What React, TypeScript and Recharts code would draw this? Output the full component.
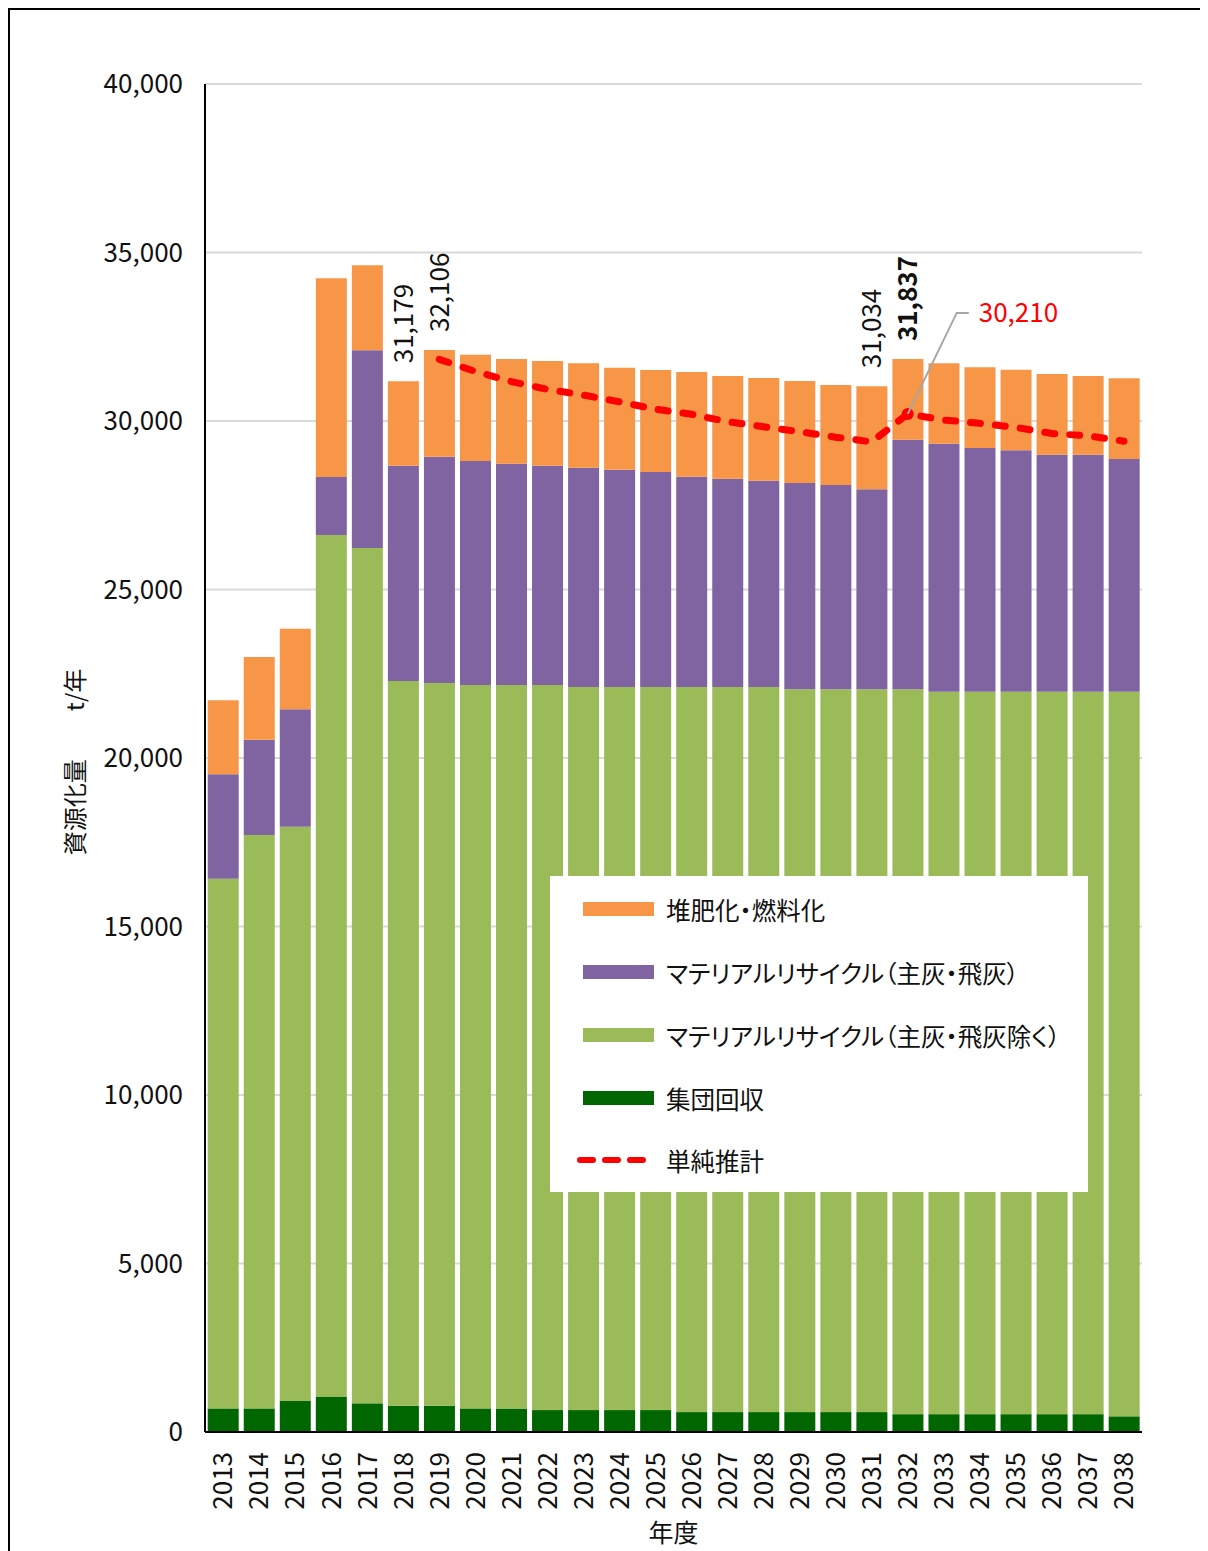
import React from 'react';
import { ComposedChart, Bar, Line, XAxis, YAxis, CartesianGrid, Legend, LabelList } from 'recharts';

const years = [
  '2013', '2014', '2015', '2016', '2017', '2018', '2019', '2020', '2021', '2022', '2023', '2024', '2025',
  '2026', '2027', '2028', '2029', '2030', '2031', '2032', '2033', '2034', '2035', '2036', '2037', '2038',
];

// 集団回収
const groupCollection = [700, 700, 920, 1050, 850, 780, 780, 700, 700, 650, 650, 650, 650, 590, 590, 590, 590, 590, 590, 530, 530, 530, 530, 530, 530, 465];
// マテリアルリサイクル（主灰・飛灰除く）
const materialOther = [15718, 17015, 17042, 25567, 25381, 21505, 21446, 21466, 21466, 21516, 21457, 21457, 21457, 21517, 21517, 21517, 21448, 21448, 21448, 21508, 21438, 21438, 21438, 21438, 21438, 21503];
// マテリアルリサイクル（主灰・飛灰）
const materialAsh = [3098, 2828, 3483, 1721, 5867, 6389, 6715, 6647, 6568, 6508, 6508, 6449, 6380, 6241, 6182, 6122, 6122, 6063, 5934, 7407, 7359, 7231, 7162, 7032, 7032, 6904];
// 堆肥化・燃料化
const compostFuel = [2196, 2454, 2392, 5896, 2522, 2505, 3165, 3155, 3106, 3106, 3096, 3026, 3026, 3106, 3046, 3047, 3027, 2967, 3062, 2392, 2384, 2394, 2393, 2395, 2335, 2395];
// 単純推計
const simpleEstimate: (number | null)[] = [null, null, null, null, null, null, 31830, 31470, 31170, 30940, 30770, 30570, 30350, 30200, 29980, 29830, 29680, 29520, 29380, 30210, 30030, 29930, 29810, 29630, 29560, 29400];

const yTicks = [0, 5000, 10000, 15000, 20000, 25000, 30000, 35000, 40000];
const labelledYears = ['2018', '2019', '2031', '2032'];
const boldYears = ['2032'];
const estimateLabelYear = '2032';

const data = years.map((year, i) => ({
  year,
  group: groupCollection[i],
  other: materialOther[i],
  ash: materialAsh[i],
  compost: compostFuel[i],
  estimate: simpleEstimate[i],
  total: groupCollection[i] + materialOther[i] + materialAsh[i] + compostFuel[i],
}));

const FONT = '"Noto Sans CJK JP", "Noto Sans", sans-serif';
const fmt = (v: number) => v.toLocaleString('en-US');

const YearTick = (props: any) => {
  const { x, y, payload } = props;
  return (
    <g transform={`translate(${x},${y})`}>
      <text transform="rotate(-90)" x={-18} dy="0.36em" textAnchor="end" fontSize={26} fontFamily={FONT} fill="#111">
        {payload.value}
      </text>
    </g>
  );
};

const TotalLabel = (props: any) => {
  const { x, y, width, index } = props;
  const d = data[index];
  if (!d || !labelledYears.includes(d.year)) return null;
  const cx = x + width / 2;
  const ty = y - 18;
  return (
    <text
      transform={`rotate(-90, ${cx}, ${ty})`}
      x={cx}
      y={ty}
      dy="0.36em"
      textAnchor="start"
      fontSize={26}
      fontFamily={FONT}
      fontWeight={boldYears.includes(d.year) ? 'bold' : 'normal'}
      fill="#111"
    >
      {fmt(d.total)}
    </text>
  );
};

const EstimateLabel = (props: any) => {
  const { x, y, index } = props;
  const d = data[index];
  if (!d || d.year !== estimateLabelYear || d.estimate == null) return null;
  return (
    <g>
      <path d={`M${x},${y} L${x + 49},${y - 101} L${x + 61},${y - 101}`} stroke="#a6a6a6" strokeWidth={2} fill="none" />
      <text x={x + 71} y={y - 101} dy="0.36em" fontSize={26} fontFamily={FONT} fill="#ff0000">
        {fmt(d.estimate)}
      </text>
    </g>
  );
};

const legendItems = [
  { label: '堆肥化・燃料化', color: '#f79646' },
  { label: 'マテリアルリサイクル（主灰・飛灰）', color: '#8064a2' },
  { label: 'マテリアルリサイクル（主灰・飛灰除く）', color: '#9bbb59' },
  { label: '集団回収', color: '#006600' },
];

const LegendBox = () => (
  <div style={{ position: 'relative', width: 538, height: 316, background: '#fff', fontFamily: FONT, fontSize: 24.5, color: '#111', fontFeatureSettings: '"palt"' }}>
    {legendItems.map((item, i) => (
      <div key={item.label} style={{ position: 'absolute', left: 33, top: 33 + i * 63 - 16, height: 32, display: 'flex', alignItems: 'center' }}>
        <span style={{ display: 'inline-block', width: 71, height: 14, background: item.color, marginRight: 12 }} />
        <span style={{ whiteSpace: 'nowrap' }}>{item.label}</span>
      </div>
    ))}
    <div style={{ position: 'absolute', left: 27, top: 284 - 16, height: 32, display: 'flex', alignItems: 'center' }}>
      <svg width={77} height={14} style={{ marginRight: 12 }}>
        <line x1={3} y1={7} x2={74} y2={7} stroke="#ff0000" strokeWidth={6} strokeDasharray="13 12" strokeLinecap="round" />
      </svg>
      <span style={{ whiteSpace: 'nowrap' }}>単純推計</span>
    </div>
  </div>
);

export default function App() {
  return (
    <div style={{ position: 'relative', width: 1200, height: 1543, overflow: 'hidden' }}>
      <div style={{ position: 'absolute', left: 0, top: 0, width: 1210, height: 1553, borderTop: '2px solid #000', borderLeft: '2px solid #000', boxSizing: 'border-box' }} />
      <ComposedChart
        width={1200}
        height={1543}
        data={data}
        margin={{ top: 76, right: 66, bottom: 0, left: 0 }}
        barCategoryGap="7.5%"
        style={{ position: 'absolute', left: 0, top: 0 }}
      >
        <CartesianGrid vertical={false} stroke="#d9d9d9" strokeWidth={2} />
        <XAxis
          dataKey="year"
          height={119}
          tick={<YearTick />}
          tickLine={false}
          tickSize={0}
          interval={0}
          axisLine={{ stroke: '#000', strokeWidth: 2 }}
          label={{ value: '年度', position: 'insideBottom', offset: 9, fontSize: 25, fontFamily: FONT, fill: '#111' }}
        />
        <YAxis
          width={197}
          domain={[0, 40000]}
          ticks={yTicks}
          tickFormatter={fmt}
          tickLine={false}
          tickSize={0}
          tickMargin={22}
          axisLine={{ stroke: '#000', strokeWidth: 2 }}
          tick={{ fontSize: 26, fontFamily: FONT, fill: '#111' }}
          label={{ value: '資源化量　　t/年', angle: -90, position: 'center', dx: -31, dy: 4, fontSize: 24, fontFamily: FONT, fill: '#111' }}
        />
        <Bar dataKey="group" stackId="a" fill="#006600" isAnimationActive={false} />
        <Bar dataKey="other" stackId="a" fill="#9bbb59" isAnimationActive={false} />
        <Bar dataKey="ash" stackId="a" fill="#8064a2" isAnimationActive={false} />
        <Bar dataKey="compost" stackId="a" fill="#f79646" isAnimationActive={false}>
          <LabelList dataKey="total" content={<TotalLabel />} />
        </Bar>
        <Line
          dataKey="estimate"
          stroke="#ff0000"
          strokeWidth={7}
          strokeDasharray="10 15"
          strokeLinecap="round"
          isAnimationActive={false}
          dot={(p: any) =>
            data[p.index] && data[p.index].year === estimateLabelYear ? (
              <circle key={`dot-${p.index}`} cx={p.cx} cy={p.cy} r={6} fill="#ff0000" />
            ) : (
              <g key={`dot-${p.index}`} />
            )
          }
          activeDot={false}
        >
          <LabelList dataKey="estimate" content={<EstimateLabel />} />
        </Line>
        <Legend
          layout="vertical"
          verticalAlign="middle"
          align="center"
          content={<LegendBox />}
          wrapperStyle={{ left: 542, top: 868, width: 538, height: 316 }}
        />
      </ComposedChart>
    </div>
  );
}
